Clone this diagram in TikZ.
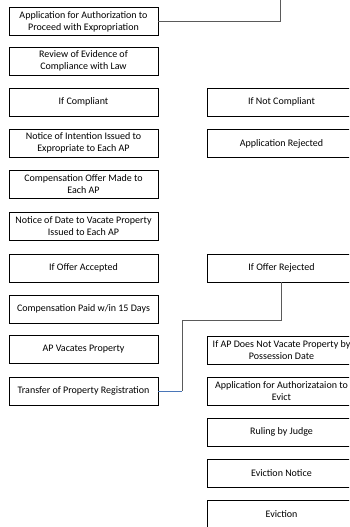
\documentclass[tikz,border=0pt]{standalone}
\usepackage{fontspec}
\setmainfont{Carlito}
\usepackage{tikz}
\definecolor{linkgray}{HTML}{5A5A5A}
\definecolor{linkblue}{HTML}{4A76B8}
\begin{document}
\begin{tikzpicture}[x=1pt,y=1pt]
\tikzstyle{stepbox}=[draw=black, line width=0.9pt, minimum width=149pt, minimum height=28pt, inner sep=1pt, align=center, font=\fontsize{10}{12}\selectfont]
\tikzstyle{link}=[linkgray, line width=0.8pt]
\useasboundingbox (0,0) rectangle (349,-527);
\clip (0,0) rectangle (349,-527);
% left column
\node [stepbox] (apply) at (83.5,-21.5) {Application for Authorization to\\Proceed with Expropriation};
\node [stepbox] (review) at (83.5,-61) {Review of Evidence of\\Compliance with Law};
\node [stepbox] (comply) at (83.5,-102) {If Compliant};
\node [stepbox] (intent) at (83.5,-143) {Notice of Intention Issued to\\Expropriate to Each AP};
\node [stepbox] (offer) at (83.5,-184) {Compensation Offer Made to\\Each AP};
\node [stepbox] (vacdate) at (83.5,-226) {Notice of Date to Vacate Property\\Issued to Each AP};
\node [stepbox] (accept) at (83.5,-268) {If Offer Accepted};
\node [stepbox] (paid) at (83.5,-309) {Compensation Paid w/in 15 Days};
\node [stepbox] (vacates) at (83.5,-349) {AP Vacates Property};
\node [stepbox] (transfer) at (83.5,-391) {Transfer of Property Registration};
% right column
\node [stepbox] (nocomply) at (281.5,-102) {If Not Compliant};
\node [stepbox] (reject) at (281.5,-143.5) {Application Rejected};
\node [stepbox] (refuse) at (281.5,-268) {If Offer Rejected};
\node [stepbox] (novacate) at (281.5,-350) {If AP Does Not Vacate Property by\\Possession Date};
\node [stepbox] (evictapp) at (281.5,-391) {Application for Authorizataion to\\Evict};
\node [stepbox] (ruling) at (281.5,-432) {Ruling by Judge};
\node [stepbox] (notice) at (281.5,-473.5) {Eviction Notice};
\node [stepbox] (evict) at (281.5,-514) {Eviction};
% connectors
\coordinate (top) at (280,0);
\draw [link] (apply.east) -- (apply.east -| top) -- (top);
\coordinate (turn) at (182,-320);
\draw [link] (refuse.south) |- (turn) -- (turn |- transfer.east);
\draw [linkblue, line width=0.7pt] (turn |- transfer.east) -- (transfer.east);
\end{tikzpicture}
\end{document}
